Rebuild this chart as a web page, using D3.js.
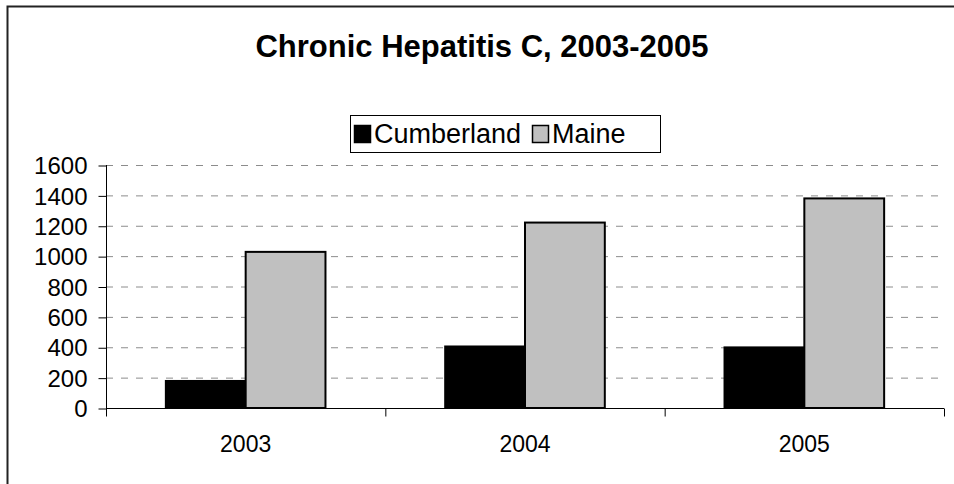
<!DOCTYPE html>
<html>
<head>
<meta charset="utf-8">
<script src="https://cdn.jsdelivr.net/npm/d3@7"></script>
<style>
  body { margin: 0; background: #fff; }
  svg { display: block; font-family: "Liberation Sans", Arial, sans-serif; }
</style>
</head>
<body>
<svg id="canvas" width="954" height="484"></svg>
<script>
// chart values
const years = ['2003', '2004', '2005']
const seriesNames = ['Cumberland', 'Maine']
const cumberland = [178, 405, 399]
const maine = [1028, 1221, 1380]
const yTicks = [0, 200, 400, 600, 800, 1000, 1200, 1400, 1600]

const colors = { Cumberland: '#000000', Maine: '#c0c0c0' }
const values = { Cumberland: cumberland, Maine: maine }

const svg = d3.select('#canvas')

// outer frame (cut off on the right and bottom in the reference)
svg.append('rect')
  .attr('x', 7.5)
  .attr('y', 6.5)
  .attr('width', 1000)
  .attr('height', 600)
  .attr('fill', 'none')
  .attr('stroke', '#222')
  .attr('stroke-width', 2)

// title
svg.append('text')
  .attr('x', 482)
  .attr('y', 57)
  .attr('text-anchor', 'middle')
  .style('font-size', '31px')
  .style('font-weight', 'bold')
  .text('Chronic Hepatitis C, 2003-2005')

// scales
const x = d3.scaleBand().domain(years).range([106, 944])
const x1 = d3.scaleBand().domain(seriesNames)
  .range([0, x.bandwidth()])
  .paddingInner(0)
  .paddingOuter(0.75)
const y = d3.scaleLinear().domain([0, 1600]).range([408, 165])

// gridlines
svg.append('g')
  .selectAll('line')
  .data(yTicks.filter(d => d > 0))
  .join('line')
  .attr('x1', x.range()[0])
  .attr('x2', x.range()[1])
  .attr('y1', d => y(d) + 0.5)
  .attr('y2', d => y(d) + 0.5)
  .attr('stroke', '#8c8c8c')
  .attr('stroke-width', 1)
  .attr('stroke-dasharray', '7,8')

// bars
const groups = svg.append('g')
  .selectAll('g')
  .data(years)
  .join('g')
  .attr('transform', d => `translate(${x(d)},0)`)

groups.selectAll('rect')
  .data((d, i) => seriesNames.map(s => ({ s, v: values[s][i] })))
  .join('rect')
  .attr('x', d => x1(d.s))
  .attr('y', d => y(d.v))
  .attr('width', x1.bandwidth())
  .attr('height', d => y(0) - y(d.v))
  .attr('fill', d => colors[d.s])
  .attr('stroke', '#000')
  .attr('stroke-width', 2)

// y axis
const yAxis = svg.append('g')
  .attr('transform', `translate(${x.range()[0] + 0.5},0)`)
  .call(d3.axisLeft(y).tickValues(yTicks).tickFormat(d3.format('d'))
    .tickSize(8).tickPadding(11).tickSizeOuter(0))
yAxis.select('.domain').attr('d', `M0,${y(1600)}V${y(0) + 8}`)
yAxis.selectAll('line').attr('transform', 'translate(0,0.5)')
yAxis.selectAll('text').style('font-size', '24px').attr('fill', '#000').attr('dy', '0.36em')
yAxis.selectAll('path, line').attr('stroke', '#000')

// x axis: line, boundary ticks, centred labels
const xAxis = svg.append('g').attr('transform', `translate(0,${y(0) + 0.5})`)
xAxis.append('line')
  .attr('x1', x.range()[0])
  .attr('x2', x.range()[1])
  .attr('stroke', '#000')
xAxis.selectAll('.tick')
  .data(years.map(d => x(d)).concat([x.range()[1]]))
  .join('line')
  .attr('class', 'tick')
  .attr('x1', d => d + 0.5)
  .attr('x2', d => d + 0.5)
  .attr('y1', 0)
  .attr('y2', 8)
  .attr('stroke', '#000')
xAxis.selectAll('text')
  .data(years)
  .join('text')
  .attr('x', d => x(d) + x.bandwidth() / 2)
  .attr('y', 43)
  .attr('text-anchor', 'middle')
  .style('font-size', '23px')
  .text(d => d)

// legend
const legend = svg.append('g').attr('transform', 'translate(350,115)')
legend.append('rect')
  .attr('x', 0.5)
  .attr('y', 0.5)
  .attr('width', 310)
  .attr('height', 37)
  .attr('fill', '#fff')
  .attr('stroke', '#000')
const legendX = [4, 182]
seriesNames.forEach((s, i) => {
  legend.append('rect')
    .attr('x', legendX[i] + 0.5)
    .attr('y', 10.5)
    .attr('width', 16)
    .attr('height', 17)
    .attr('fill', colors[s])
    .attr('stroke', '#000')
    .attr('stroke-width', 1.5)
  legend.append('text')
    .attr('x', legendX[i] + 20)
    .attr('y', 28)
    .style('font-size', '27px')
    .text(s)
})
</script>
</body>
</html>
